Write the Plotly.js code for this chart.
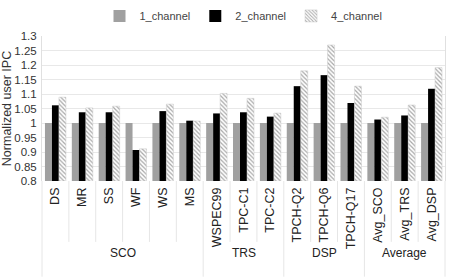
<!DOCTYPE html>
<html>
<head>
<meta charset="utf-8">
<script src="https://cdn.plot.ly/plotly-3.0.1.min.js"></script>
<style>html,body{margin:0;padding:0;background:#fff;}#chart{width:464px;height:277px;}</style>
</head>
<body>
<div id="chart"></div>
<script>
const groups = ["SCO","SCO","SCO","SCO","SCO","SCO","TRS","TRS","TRS","DSP","DSP","DSP","Average","Average","Average"];
const workloads = ["DS","MR","SS","WF","WS","MS","WSPEC99","TPC-C1","TPC-C2","TPCH-Q2","TPCH-Q6","TPCH-Q17","Avg_SCO","Avg_TRS","Avg_DSP"];
const ch1 = [1,1,1,1,1,1,1,1,1,1,1,1,1,1,1];
const ch2 = [1.061,1.037,1.037,0.907,1.041,1.008,1.033,1.037,1.022,1.127,1.165,1.069,1.012,1.026,1.118];
const ch4 = [1.089,1.052,1.058,0.911,1.065,1.007,1.102,1.085,1.034,1.180,1.269,1.127,1.020,1.062,1.191];
const yTicks = [0.8,0.85,0.9,0.95,1,1.05,1.1,1.15,1.2,1.25,1.3];
const yTickText = ["0.8","0.85","0.9","0.95","1","1.05","1.1","1.15","1.2","1.25","1.3"];

const base = 0.8;
const traces = [
  {type:'bar', name:'1_channel', x:workloads, y:ch1.map(v=>v-base), base:base, marker:{color:'#a0a0a0'}},
  {type:'bar', name:'2_channel', x:workloads, y:ch2.map(v=>v-base), base:base, marker:{color:'#000000'}},
  {type:'bar', name:'4_channel', x:workloads, y:ch4.map(v=>v-base), base:base,
   marker:{color:'#ffffff', line:{color:'#c8c8c8', width:0.5}, pattern:{shape:'\\', fgcolor:'#a8a8a8', bgcolor:'#ffffff', size:3, solidity:0.4}}}
];

// separators and group labels derived from the group array
const n = workloads.length;
const shapes = [];
const annotations = [];
const lineCol = '#e6e6e6';
let start = 0;
for (let i = 0; i <= n; i++) {
  const isBoundary = (i === 0 || i === n || groups[i] !== groups[i-1]);
  shapes.push({type:'line', xref:'paper', yref:'paper', x0:i/n, x1:i/n, y0:0,
               y1: isBoundary ? -0.66 : -0.42, line:{color:lineCol, width:1}, layer:'below'});
  if (i > 0 && (i === n || groups[i] !== groups[i-1])) {
    annotations.push({xref:'paper', yref:'paper', x:(start + i)/2/n, y:-0.495, yanchor:'middle',
                      xanchor:'center', text:groups[i-1], showarrow:false,
                      font:{size:12, color:'#222'}});
    start = i;
  }
}

const layout = {
  width:464, height:277,
  margin:{l:42, r:19, t:36, b:96},
  font:{family:'Liberation Sans, Arial, sans-serif', size:12, color:'#333'},
  barmode:'group', bargap:0.22, bargroupgap:0,
  showlegend:true,
  legend:{orientation:'h', x:0.5, xanchor:'center', y:0.995, yanchor:'top', yref:'container',
          font:{size:11, color:'#444'}, itemwidth:30, tracegroupgap:0},
  xaxis:{type:'category', tickangle:-90, showgrid:false, showline:false, zeroline:false,
         ticks:'', ticklabelstandoff:3,
         tickfont:{size:12.5, color:'#222'}},
  yaxis:{range:[0.8,1.3], tickvals:yTicks, ticktext:yTickText, showgrid:true, gridcolor:'#e8e8e8',
         zeroline:false, showline:true, linecolor:'#e0e0e0', mirror:true, ticks:'',
         ticklabelstandoff:2,
         tickfont:{size:11.5, color:'#333'},
         title:{text:'Normalized user IPC', font:{size:12.5, color:'#333'}, standoff:4}},
  shapes:shapes,
  annotations:annotations,
  plot_bgcolor:'#fff', paper_bgcolor:'#fff'
};
Plotly.newPlot('chart', traces, layout, {displayModeBar:false, staticPlot:true});
</script>
</body>
</html>
